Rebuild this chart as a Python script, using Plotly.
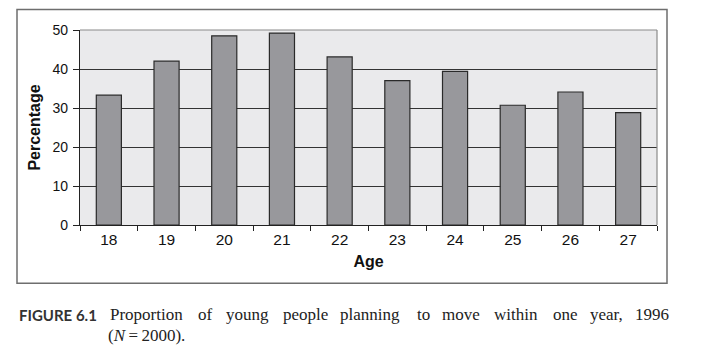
import plotly.graph_objects as go

ages = ["18", "19", "20", "21", "22", "23", "24", "25", "26", "27"]
percentages = [33.3, 42.0, 48.5, 49.2, 43.1, 37.0, 39.4, 30.7, 34.1, 28.8]
y_ticks = [0, 10, 20, 30, 40, 50]

caption_label = "FIGURE 6.1"
caption_line1 = ["Proportion", "of", "young", "people", "planning", "to", "move",
                 "within", "one", "year,", "1996"]
caption_line2 = "(<i>N</i>\u2009=\u20092000)."

# plot area geometry (pixels) used to convert layout positions
L, R, T, B = 80, 60, 29.5, 129.5
W, H = 717, 355
PW, PH = W - L - R, H - T - B


def px(x):
    return (x - L) / PW


def py(y):
    return (H - B - y) / PH


fig = go.Figure()
fig.add_trace(go.Bar(
    x=ages, y=percentages,
    marker=dict(color="#98989c", line=dict(color="#2a2a2a", width=1.2)),
    hoverinfo="skip",
))

fig.update_layout(
    width=W, height=H,
    margin=dict(l=L, r=R, t=T, b=B, pad=0),
    paper_bgcolor="white",
    plot_bgcolor="#eaeaec",
    bargap=0.565,
    showlegend=False,
    font=dict(family="Liberation Sans, Arial, sans-serif", color="#111"),
    xaxis=dict(
        type="category",
        tickson="boundaries",
        ticks="outside", ticklen=5, tickcolor="#222", tickwidth=1,
        showline=True, linecolor="#222", linewidth=1.2,
        showgrid=False,
        tickfont=dict(size=15.5, color="#111"),
        title=dict(text="<b>Age</b>", font=dict(size=16, color="#111"), standoff=9),
    ),
    yaxis=dict(
        range=[0, 50],
        tickvals=y_ticks,
        ticks="outside", ticklen=6, tickcolor="#222", tickwidth=1,
        showline=True, linecolor="#222", linewidth=1.2,
        showgrid=True, gridcolor="#333", gridwidth=1,
        zeroline=False,
        tickfont=dict(size=14, color="#111"),
        ticklabelstandoff=2,
        title=dict(text="<b>Percentage</b>", font=dict(size=16, color="#111"), standoff=7),
    ),
)

# plot-area top/right border (gray) and the outer frame
fig.add_shape(type="line", xref="paper", yref="paper", x0=0, x1=1, y0=1, y1=1,
              line=dict(color="#8a8a8a", width=1.2), layer="above")
fig.add_shape(type="line", xref="paper", yref="paper", x0=1, x1=1, y0=0, y1=1,
              line=dict(color="#8a8a8a", width=1.2), layer="above")
fig.add_shape(type="rect", xref="paper", yref="paper",
              x0=px(17), x1=px(667), y0=py(284), y1=py(9),
              line=dict(color="#6e6e6e", width=1.5), layer="above")

# caption
fig.add_annotation(text="<b>" + caption_label + "</b>", xref="paper", yref="paper",
                   x=px(17), y=py(315.5), xanchor="left", yanchor="middle", showarrow=False,
                   font=dict(family="Lato, Liberation Sans, sans-serif", size=15, color="#333"))
word_cx = [146.5, 205.5, 247.5, 305, 369.5, 423, 461, 516, 565.5, 606.5, 652]
for w, x in zip(caption_line1, word_cx):
    fig.add_annotation(text=w, xref="paper", yref="paper", x=px(x), y=py(315.5),
                       xanchor="center", yanchor="middle", showarrow=False,
                       font=dict(family="Liberation Serif, Times New Roman, serif", size=17, color="#222"))
fig.add_annotation(text=caption_line2, xref="paper", yref="paper", x=px(106), y=py(337),
                   xanchor="left", yanchor="middle", showarrow=False,
                   font=dict(family="Liberation Serif, Times New Roman, serif", size=17, color="#222"))

fig.write_html("out.html", config={"displayModeBar": False},
               post_script="document.body.style.margin='0px';")
